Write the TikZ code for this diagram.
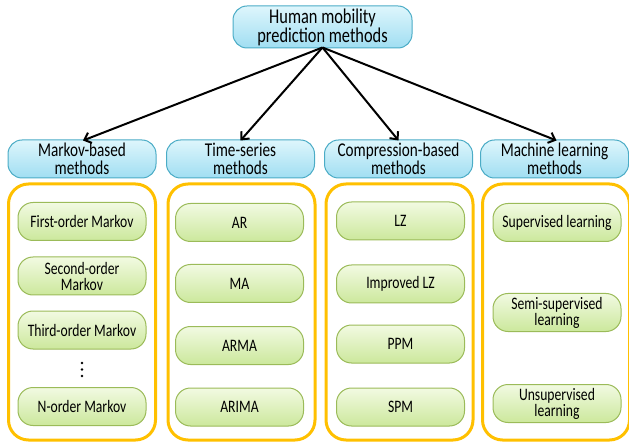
\documentclass[tikz,border=0pt]{standalone}
\usepackage{fontspec}
\setmainfont{Carlito}[FakeStretch=0.78]
\usepackage{tikz}
\usetikzlibrary{arrows.meta}
\definecolor{skyedge}{RGB}{75,172,198}
\definecolor{skytop}{RGB}{222,246,252}
\definecolor{skybot}{RGB}{160,222,242}
\definecolor{leafedge}{RGB}{155,187,89}
\definecolor{leaftop}{RGB}{242,250,226}
\definecolor{leafbot}{RGB}{204,232,156}
\definecolor{amber}{RGB}{255,192,0}

\begin{document}
\begin{tikzpicture}[x=1pt,y=-1pt]
  \tikzset{GroupStyle/.style = {
    shape         = rectangle,
    rounded corners = 14pt,
    draw          = skyedge,
    top color     = skytop,
    bottom color  = skybot,
    line width    = 1pt,
    text          = black,
    align         = center,
    inner sep     = 1pt,
    minimum width = 148pt,
    minimum height= 38pt,
    font          = \fontsize{19.5}{18.5}\selectfont
    }
  }
  \tikzset{RootStyle/.style = {
    GroupStyle,
    minimum width = 179pt,
    minimum height= 42pt,
    font          = \fontsize{21}{19}\selectfont
    }
  }
  \tikzset{FrameStyle/.style = {
    shape         = rectangle,
    rounded corners = 20pt,
    draw          = amber,
    line width    = 3pt,
    minimum width = 147pt,
    minimum height= 256pt
    }
  }
  \tikzset{MethodStyle/.style = {
    shape         = rectangle,
    rounded corners = 15pt,
    draw          = leafedge,
    top color     = leaftop,
    bottom color  = leafbot,
    line width    = 1pt,
    text          = black,
    align         = center,
    inner sep     = 1pt,
    minimum width = 128pt,
    minimum height= 38pt,
    font          = \fontsize{17.5}{16}\selectfont
    }
  }
  \tikzset{EdgeStyle/.style = {
    draw          = black,
    line width    = 2pt,
    -{Straight Barb[length=6pt,width=11pt]}
    }
  }

  \useasboundingbox (0,0) rectangle (629,446);

	\node[RootStyle](Root) at (322.5, 27) {Human mobility\\prediction methods};

	\node[GroupStyle](G1) at (82, 159) {Markov-based\\methods};
	\node[GroupStyle](G2) at (240.5, 159) {Time-series\\methods};
	\node[GroupStyle](G3) at (398.5, 159) {Compression-based\\methods};
	\node[GroupStyle](G4) at (554.5, 159) {Machine learning\\methods};

	\node[FrameStyle](F1) at (82, 312) {};
	\node[FrameStyle](F2) at (241.5, 312) {};
	\node[FrameStyle](F3) at (399.5, 312) {};
	\node[FrameStyle](F4) at (556, 312) {};

	% Markov-based
	\node[MethodStyle](M1) at (82, 221.5) {First-order Markov};
	\node[MethodStyle](M2) at (82, 276) {Second-order\\Markov};
	\node[MethodStyle](M3) at (82, 330) {Third-order Markov};
	\foreach \y in {363,369.5,376}
	  \fill[black] (82,\y) circle (1.3pt);
	\node[MethodStyle](M4) at (82, 406.5) {N-order Markov};

	% Time-series
	\node[MethodStyle](T1) at (239.5, 222.5) {AR};
	\node[MethodStyle](T2) at (239.5, 283.5) {MA};
	\node[MethodStyle](T3) at (239.5, 345.5) {ARMA};
	\node[MethodStyle](T4) at (239.5, 407) {ARIMA};

	% Compression-based
	\node[MethodStyle](C1) at (400.5, 221) {LZ};
	\node[MethodStyle](C2) at (400.5, 284) {Improved LZ};
	\node[MethodStyle](C3) at (400.5, 344) {PPM};
	\node[MethodStyle](C4) at (400.5, 407) {SPM};

	% Machine learning
	\node[MethodStyle](L1) at (557, 222.5) {Supervised learning};
	\node[MethodStyle](L2) at (557, 312.5) {Semi-supervised\\learning};
	\node[MethodStyle](L3) at (557, 403.5) {Unsupervised\\learning};

	\coordinate (Hub) at ([yshift=1pt]Root.south);
	\draw[EdgeStyle](Hub) to ([xshift=1pt,yshift=-1pt]G1.north);
	\draw[EdgeStyle](Hub) to ([yshift=-1pt]G2.north);
	\draw[EdgeStyle](Hub) to ([yshift=-1pt]G3.north);
	\draw[EdgeStyle](Hub) to ([xshift=2pt,yshift=-1pt]G4.north);

\end{tikzpicture}
\end{document}
